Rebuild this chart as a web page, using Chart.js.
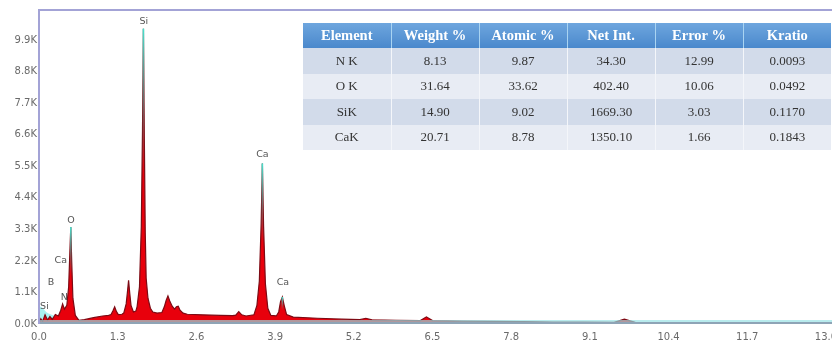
<!DOCTYPE html>
<html>
<head>
<meta charset="utf-8">
<script src="https://cdn.jsdelivr.net/npm/chart.js@4/dist/chart.umd.min.js"></script>
<style>
html,body{margin:0;padding:0;background:#fff;overflow:hidden;}
#wrap{position:relative;width:832px;height:345px;}
canvas{position:absolute;left:0;top:0;}
table{position:absolute;left:303px;top:23px;width:528px;border-collapse:collapse;table-layout:fixed;
  font-family:"Liberation Serif","Times New Roman",serif;font-size:13px;color:#333;}
th{height:25px;padding:0;color:#fff;font-weight:bold;font-size:14.5px;
  background:linear-gradient(#6ea6de,#4a88cc);border-left:1px solid #a9d4f2;text-align:center;}
th:first-child{border-left:none;}
td{height:25.5px;padding:0;text-align:center;border-left:1px solid #f4f6fa;}
td:first-child{border-left:none;}
tr.odd td{background:#d2dbea;}
tr.even td{background:#e8ecf4;}
</style>
</head>
<body>
<div id="wrap">
<canvas id="c" width="832" height="345"></canvas>
<table id="tbl"></table>
</div>
<script>
// ---- Spectrum data (energy in keV, intensity in counts) ----
const energy = [
  0.00, 0.03, 0.06, 0.10, 0.14, 0.18, 0.22, 0.27, 0.32, 0.36, 0.39, 0.42, 0.46, 0.49, 0.51, 0.525, 0.54, 0.56, 0.60, 0.66,
  0.75, 0.90, 1.05, 1.15,
  1.19, 1.22, 1.25, 1.28, 1.31, 1.37,
  1.40, 1.44, 1.46, 1.48, 1.50, 1.52, 1.56, 1.60,
  1.62, 1.66, 1.69, 1.71, 1.725, 1.74, 1.755, 1.77, 1.80, 1.84, 1.88, 1.95, 2.03,
  2.07, 2.10, 2.13, 2.16, 2.20, 2.24, 2.27, 2.30, 2.33, 2.38, 2.45,
  2.70, 3.00, 3.20, 3.25, 3.30, 3.35, 3.42,
  3.55, 3.60, 3.64, 3.67, 3.69, 3.71, 3.74, 3.78, 3.83, 3.92,
  3.96, 3.99, 4.02, 4.05, 4.09,
  4.20, 4.60, 5.00, 5.30, 5.40, 5.50, 5.90, 6.30, 6.40, 6.50, 7.00, 7.50, 8.00, 8.50, 9.00, 9.50, 9.67, 9.85,
  10.50, 11.00, 12.00, 13.10
];
const counts = [
  0, 180, 90, 320, 140, 260, 160, 330, 280, 480, 700, 520, 650, 1300, 2500, 3380, 2200, 900, 300, 130,
  150, 220, 280, 300,
  330, 450, 600, 430, 330, 340,
  380, 700, 1100, 1520, 1050, 650, 420, 450,
  600, 1300, 3400, 6800, 10300, 6500, 3200, 1600, 900, 550, 420, 380, 400,
  600, 820, 980, 800, 620, 520, 600, 620, 480, 380, 340,
  320, 300, 290, 310, 430, 320, 280,
  320, 650, 1500, 3500, 5600, 3400, 1400, 550, 300, 280,
  420, 780, 940, 650, 330,
  240, 200, 170, 150, 200, 145, 130, 120, 250, 120, 100, 90, 80, 70, 65, 60, 170, 60,
  50, 45, 40, 35
];
// low-energy region shown in light cyan
const lowEnergy = [0.00, 0.02, 0.06, 0.12, 0.20, 0.28, 0.36];
const lowCounts = [0, 600, 560, 420, 330, 250, 0];

// ---- Axis ticks ----
const xTicks = [0.0, 1.3, 2.6, 3.9, 5.2, 6.5, 7.8, 9.1, 10.4, 11.7, 13.0];
const yTicks = [0, 1100, 2200, 3300, 4400, 5500, 6600, 7700, 8800, 9900];

// ---- Peak labels ----
const peakLabels = ['Si', 'O', 'Ca', 'Ca', 'Ca', 'B', 'N', 'Si'];
const peakLabelE = [1.73, 0.53, 3.69, 4.03, 0.36, 0.20, 0.42, 0.09];
const peakLabelY = [10550, 3600, 5900, 1430, 2200, 1430, 940, 600];

// ---- Peak-top markers ----
const markerE = [0.525, 1.725, 3.69, 4.02];
const markerTop = [3380, 10300, 5600, 940];

// ---- Quantification table ----
const tableHead = ['Element', 'Weight %', 'Atomic %', 'Net Int.', 'Error %', 'Kratio'];
const tElement = ['N K', 'O K', 'SiK', 'CaK'];
const tWeight = ['8.13', '31.64', '14.90', '20.71'];
const tAtomic = ['9.87', '33.62', '9.02', '8.78'];
const tNetInt = ['34.30', '402.40', '1669.30', '1350.10'];
const tError = ['12.99', '10.06', '3.03', '1.66'];
const tKratio = ['0.0093', '0.0492', '0.1170', '0.1843'];

// build table
(function(){
  const t = document.getElementById('tbl');
  let h = '<tr>' + tableHead.map(s => '<th>' + s + '</th>').join('') + '</tr>';
  for (let i = 0; i < tElement.length; i++) {
    h += '<tr class="' + (i % 2 === 0 ? 'odd' : 'even') + '">' +
      [tElement[i], tWeight[i], tAtomic[i], tNetInt[i], tError[i], tKratio[i]].map(s => '<td>' + s + '</td>').join('') +
      '</tr>';
  }
  t.innerHTML = h;
})();

const decor = {
  id: 'decor',
  afterDatasetsDraw(chart) {
    const ctx = chart.ctx, a = chart.chartArea;
    const xs = chart.scales.x, ys = chart.scales.y;
    ctx.save();
    // peak-top cyan markers
    for (let i = 0; i < markerE.length; i++) {
      const x = xs.getPixelForValue(markerE[i]);
      const yt = ys.getPixelForValue(markerTop[i]);
      const yb = ys.getPixelForValue(markerTop[i] * 0.5);
      const g = ctx.createLinearGradient(0, yt, 0, yb);
      g.addColorStop(0, 'rgba(70,225,205,1)');
      g.addColorStop(0.5, 'rgba(90,170,160,0.6)');
      g.addColorStop(1, 'rgba(90,120,110,0)');
      ctx.strokeStyle = g;
      ctx.lineWidth = 1.6;
      ctx.beginPath(); ctx.moveTo(x, yt); ctx.lineTo(x, yb); ctx.stroke();
    }
    // bottom band
    ctx.strokeStyle = 'rgba(150,225,228,0.9)';
    ctx.lineWidth = 1.5;
    ctx.beginPath(); ctx.moveTo(a.left, a.bottom - 3); ctx.lineTo(a.right, a.bottom - 3); ctx.stroke();
    ctx.strokeStyle = '#8ea4b6';
    ctx.lineWidth = 2;
    ctx.beginPath(); ctx.moveTo(a.left, a.bottom - 1); ctx.lineTo(a.right, a.bottom - 1); ctx.stroke();
    // frame (left + top)
    ctx.strokeStyle = '#a3a3d6';
    ctx.lineWidth = 2;
    ctx.beginPath();
    ctx.moveTo(a.left, a.bottom); ctx.lineTo(a.left, a.top); ctx.lineTo(a.right, a.top);
    ctx.stroke();
    // peak labels
    ctx.font = '9.5px "DejaVu Sans", sans-serif';
    ctx.fillStyle = '#555';
    ctx.textAlign = 'center';
    ctx.textBaseline = 'middle';
    for (let i = 0; i < peakLabels.length; i++) {
      ctx.fillText(peakLabels[i], xs.getPixelForValue(peakLabelE[i]), ys.getPixelForValue(peakLabelY[i]));
    }
    ctx.restore();
  }
};

new Chart(document.getElementById('c'), {
  type: 'line',
  data: {
    datasets: [
      {
        data: energy.map((e, i) => ({x: e, y: counts[i]})),
        fill: 'origin',
        backgroundColor: 'rgb(232,0,12)',
        borderColor: 'rgb(125,10,20)',
        borderWidth: 1.2,
        pointRadius: 0,
        tension: 0,
        order: 1
      },
      {
        data: lowEnergy.map((e, i) => ({x: e, y: lowCounts[i]})),
        fill: 'origin',
        backgroundColor: 'rgba(160,240,240,0.9)',
        borderWidth: 0,
        pointRadius: 0,
        tension: 0.3,
        order: 2
      }
    ]
  },
  options: {
    responsive: false,
    animation: false,
    layout: {padding: {top: 10, left: 0, right: 0, bottom: 0}},
    plugins: {legend: {display: false}, tooltip: {enabled: false}},
    scales: {
      x: {
        type: 'linear', min: 0, max: 13.1,
        afterBuildTicks: s => { s.ticks = xTicks.map(v => ({value: v})); },
        afterFit: s => { s.paddingLeft = 0; s.paddingRight = 0; s.height = 21; },
        grid: {display: false, drawTicks: false},
        border: {display: false},
        ticks: {
          callback: v => Number(v).toFixed(1),
          font: {family: '"DejaVu Sans", sans-serif', size: 10},
          color: '#6a6a6a', maxRotation: 0, autoSkip: false, padding: 7
        }
      },
      y: {
        min: 0, max: 10950,
        afterBuildTicks: s => { s.ticks = yTicks.map(v => ({value: v})); },
        afterFit: s => { s.width = 39; },
        grid: {display: false, drawTicks: false},
        border: {display: false},
        ticks: {
          callback: v => (v / 1000).toFixed(1) + 'K',
          font: {family: '"DejaVu Sans", sans-serif', size: 10},
          color: '#6a6a6a', padding: 2, autoSkip: false
        }
      }
    }
  },
  plugins: [decor]
});
</script>
</body>
</html>
